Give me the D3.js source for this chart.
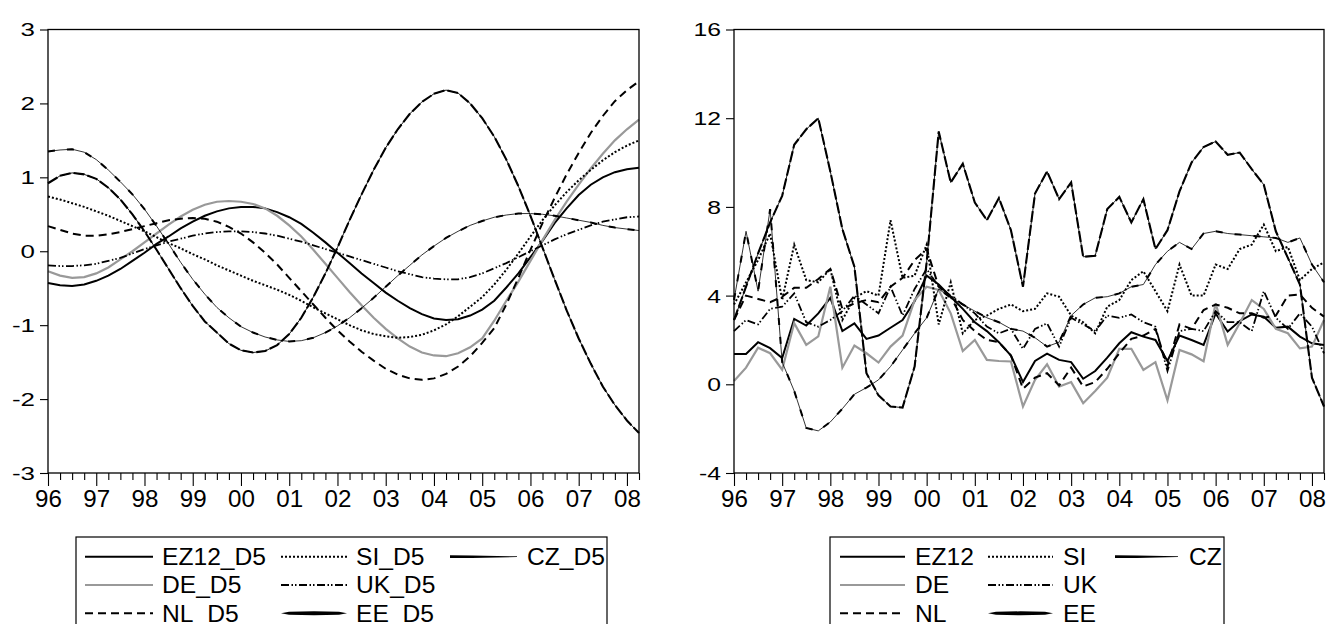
<!DOCTYPE html>
<html>
<head>
<meta charset="utf-8">
<script src="https://cdn.jsdelivr.net/npm/d3@7"></script>
<style>
  body { margin: 0; background: #fff; }
  svg { display: block; }
  text { font-family: "Liberation Sans", Arial, sans-serif; fill: #000; }
</style>
</head>
<body>
<svg id="chart" width="1326" height="624"></svg>
<script>
// quarterly observations 1996Q1 .. 2008Q2
const yearLabels = ["96","97","98","99","00","01","02","03","04","05","06","07","08"]
const nObs = 50

// left panel: filtered cycles (D5)
const ez12D5 = [-0.43,-0.46,-0.47,-0.45,-0.4,-0.33,-0.24,-0.13,-0.02,0.1, 0.2,0.31,0.4,0.48,0.54,0.58,0.6,0.6,0.58,0.53, 0.46,0.37,0.25,0.12,-0.02,-0.16,-0.3,-0.43,-0.56,-0.67, -0.77,-0.85,-0.91,-0.93,-0.92,-0.87,-0.79,-0.67,-0.49,-0.3, -0.08,0.14,0.38,0.58,0.76,0.9,1.0,1.07,1.11,1.13]
const deD5 = [-0.27,-0.33,-0.36,-0.35,-0.3,-0.22,-0.11,0.0,0.12,0.24, 0.36,0.47,0.56,0.63,0.67,0.68,0.67,0.64,0.58,0.48, 0.35,0.2,0.02,-0.17,-0.36,-0.55,-0.73,-0.9,-1.05,-1.18, -1.29,-1.37,-1.41,-1.42,-1.38,-1.3,-1.18,-0.94,-0.67,-0.41, -0.13,0.15,0.42,0.67,0.9,1.12,1.32,1.5,1.65,1.78]
const nlD5 = [0.34,0.29,0.24,0.21,0.21,0.23,0.26,0.3,0.34,0.38, 0.42,0.44,0.45,0.44,0.4,0.33,0.24,0.12,-0.02,-0.18, -0.36,-0.54,-0.72,-0.9,-1.07,-1.22,-1.36,-1.48,-1.59,-1.67, -1.72,-1.74,-1.72,-1.66,-1.56,-1.42,-1.24,-1.04,-0.72,-0.36, 0.02,0.38,0.72,1.04,1.33,1.6,1.83,2.03,2.18,2.3]
const siD5 = [0.74,0.7,0.65,0.6,0.54,0.48,0.41,0.34,0.27,0.19, 0.11,0.04,-0.04,-0.11,-0.19,-0.26,-0.33,-0.4,-0.46,-0.52, -0.59,-0.67,-0.76,-0.84,-0.92,-1.0,-1.07,-1.12,-1.15,-1.17, -1.16,-1.13,-1.07,-0.99,-0.88,-0.75,-0.62,-0.45,-0.25,-0.03, 0.2,0.42,0.62,0.8,0.96,1.1,1.23,1.34,1.43,1.5]
const ukD5 = [-0.19,-0.2,-0.2,-0.19,-0.17,-0.13,-0.09,-0.03,0.03,0.08, 0.13,0.17,0.21,0.24,0.26,0.27,0.27,0.26,0.24,0.21, 0.17,0.13,0.08,0.03,-0.02,-0.07,-0.12,-0.17,-0.22,-0.27, -0.31,-0.35,-0.37,-0.38,-0.38,-0.35,-0.3,-0.23,-0.16,-0.08, 0.0,0.08,0.16,0.23,0.29,0.35,0.4,0.43,0.46,0.47]
const eeD5 = [0.92,1.02,1.06,1.04,0.98,0.86,0.7,0.5,0.27,0.02, -0.24,-0.5,-0.74,-0.95,-1.1,-1.25,-1.34,-1.37,-1.35,-1.27, -1.12,-0.9,-0.62,-0.3,0.05,0.42,0.77,1.1,1.4,1.65, 1.86,2.02,2.13,2.18,2.14,2.0,1.8,1.55,1.24,0.88, 0.48,0.05,-0.38,-0.8,-1.18,-1.52,-1.83,-2.08,-2.29,-2.46]
const czD5 = [1.35,1.37,1.38,1.34,1.24,1.1,0.94,0.77,0.57,0.34, 0.1,-0.15,-0.38,-0.58,-0.76,-0.9,-1.02,-1.1,-1.16,-1.2, -1.22,-1.21,-1.17,-1.1,-1.01,-0.9,-0.77,-0.63,-0.48,-0.33, -0.19,-0.05,0.07,0.18,0.27,0.35,0.41,0.46,0.49,0.51, 0.51,0.5,0.48,0.45,0.42,0.39,0.35,0.32,0.3,0.28]

// right panel: growth rates
const ez12 = [1.37,1.37,1.9,1.63,1.18,2.95,2.65,3.2,3.9,2.4, 2.75,2.05,2.2,2.55,2.9,3.75,4.9,4.5,3.95,3.4, 2.8,2.4,1.9,1.3,0.1,1.05,1.38,1.1,1.0,0.25, 0.6,1.2,1.85,2.35,2.15,2.0,1.05,2.2,2.0,1.78, 3.2,2.38,2.85,3.15,3.05,2.55,2.6,2.15,1.85,1.77]
const de = [0.15,0.75,1.65,1.4,0.66,2.76,1.78,2.16,4.4,0.75, 1.75,1.4,0.98,1.7,2.2,3.8,4.4,4.25,3.2,1.5, 2.0,1.1,1.05,1.03,-1.0,0.2,0.9,-0.1,0.1,-0.85, -0.3,0.3,1.6,1.6,0.65,1.0,-0.72,1.55,1.35,1.04, 3.65,1.78,2.75,3.8,3.4,2.5,2.3,1.62,1.7,2.9]
const nl = [2.9,4.0,3.85,3.7,3.95,4.35,4.35,4.75,5.2,3.4, 3.65,3.8,3.7,4.4,4.8,5.6,6.1,4.4,3.95,2.9, 2.4,2.0,1.9,1.3,-0.2,0.3,0.5,-0.05,0.75,-0.1, 0.1,0.7,1.4,2.05,2.2,2.5,0.8,2.7,2.5,3.35, 3.6,3.45,3.2,3.2,3.0,3.1,4.0,4.05,3.45,3.05]
const si = [3.6,4.6,5.6,6.8,3.8,6.3,4.7,4.6,5.2,2.9, 3.9,4.2,4.0,7.4,4.8,4.9,6.3,2.7,4.6,2.3, 2.9,3.1,3.4,3.6,3.3,3.4,4.1,3.95,3.1,2.8, 2.3,3.5,3.8,4.7,5.1,4.2,3.3,5.4,4.0,4.0, 5.4,5.2,6.1,6.3,7.2,6.0,6.2,4.7,5.2,5.5]
const uk = [2.4,2.9,2.7,3.4,3.5,4.1,2.8,2.6,2.9,3.3, 4.0,3.6,3.2,4.4,3.1,4.3,5.2,4.4,4.0,3.6, 3.2,2.6,2.3,2.5,1.6,2.5,2.75,1.7,3.0,2.7, 2.4,3.1,3.0,3.15,2.8,2.6,0.6,2.4,2.5,2.4, 3.3,2.8,2.8,2.4,4.2,3.0,2.5,3.2,2.6,1.4]
const ee = [2.9,4.4,5.9,7.3,8.5,10.8,11.5,12.0,9.6,7.0, 5.3,0.5,-0.5,-1.0,-1.05,0.8,5.5,11.4,9.1,9.95, 8.2,7.4,8.4,6.95,4.4,8.6,9.6,8.35,9.1,5.75, 5.8,7.9,8.45,7.3,8.35,6.1,6.95,8.7,10.0,10.7, 10.95,10.35,10.45,9.7,9.0,6.9,5.7,4.5,0.3,-1.0]
const cz = [3.8,6.9,4.2,7.9,1.0,-0.3,-1.97,-2.1,-1.7,-1.1, -0.45,-0.15,0.2,0.8,1.55,2.3,3.0,4.3,3.9,3.6, 3.3,3.0,2.8,2.5,2.4,2.1,1.7,1.9,3.1,3.6, 3.9,3.95,4.1,4.4,4.5,5.4,6.0,6.4,6.1,6.8, 6.9,6.8,6.75,6.7,6.65,6.6,6.4,6.6,5.4,4.6]

const leftNames = ["EZ12_D5","DE_D5","NL_D5","SI_D5","UK_D5","EE_D5","CZ_D5"]
const rightNames = ["EZ12","DE","NL","SI","UK","EE","CZ"]
const leftTicks = [-3,-2,-1,0,1,2,3]
const rightTicks = [-4,0,4,8,12,16]

// one style per series position (same in both panels)
const styles = [
    [{stroke:"#000", w:2}],
    [{stroke:"#999", w:2.2}],
    [{stroke:"#000", w:2, dash:"8,5"}],
    [{stroke:"#000", w:2, dash:"2,2"}],
    [{stroke:"#000", w:1.8, dash:"8,2.5,1.5,2,1.5,2.5"}],
    [{stroke:"#000", w:0.9}, {stroke:"#000", w:2.1, dash:"11,3"}],
    [{stroke:"#000", w:0.8}, {stroke:"#000", w:2, dash:"7,12"}]
]

const svg = d3.select("#chart")

function stretch(sel, k, anchor){
    sel.each(function(){
        const t = d3.select(this)
        const w = this.getComputedTextLength()
        const x0 = +t.attr("x") || 0
        const nw = w * k
        t.attr("textLength", nw).attr("lengthAdjust", "spacingAndGlyphs")
         .attr("text-anchor", "start")
         .attr("x", anchor === "end" ? x0 - nw : anchor === "middle" ? x0 - nw / 2 : x0)
    })
}

function drawPanel(cfg){
    const x = d3.scaleLinear().domain([0, nObs - 1]).range([cfg.left, cfg.right])
    const y = d3.scaleLinear().domain(cfg.domain).range([cfg.bottom, cfg.top])
    const g = svg.append("g")

    // series
    const line = d3.line().x((d, i) => x(i)).y(d => y(d))
    cfg.series.forEach((data, si) => {
        styles[si].forEach(st => {
            g.append("path")
                .attr("d", line(data))
                .attr("fill", "none")
                .attr("stroke", st.stroke)
                .attr("stroke-width", st.w)
                .attr("stroke-dasharray", st.dash || null)
                .attr("stroke-linejoin", "miter")
        })
    })

    // frame
    g.append("rect")
        .attr("x", cfg.left).attr("y", cfg.top)
        .attr("width", cfg.right - cfg.left).attr("height", cfg.bottom - cfg.top)
        .attr("fill", "none").attr("stroke", "#000").attr("stroke-width", 1.3)

    // y axis
    const ya = g.append("g")
        .attr("transform", `translate(${cfg.left},0)`)
        .call(d3.axisLeft(y).tickValues(cfg.ticks).tickSize(8).tickPadding(5).tickFormat(d => String(d)))
    ya.select(".domain").remove()
    ya.selectAll("line").attr("stroke-width", 1.1)
    ya.selectAll("text").style("font-size", cfg.yFont + "px").attr("dy", "0.34em")
    stretch(ya.selectAll("text"), cfg.yStretch, "end")

    // x axis: quarterly ticks, labelled each year
    const xa = g.append("g")
        .attr("transform", `translate(0,${cfg.bottom})`)
        .call(d3.axisBottom(x).tickValues(d3.range(nObs)).tickSize(7)
            .tickFormat(i => i % 4 === 0 ? yearLabels[i / 4] : ""))
    xa.select(".domain").remove()
    xa.selectAll("line").attr("stroke-width", 1.1)
    xa.selectAll(".tick").filter(i => i % 4 === 0).select("line").attr("y2", 13)
    xa.selectAll("text").style("font-size", "23px").attr("y", 18)
    stretch(xa.selectAll("text").filter(function(){ return this.textContent !== "" }), 1.05, "middle")

    // legend
    const lg = g.append("g")
    lg.append("rect")
        .attr("x", cfg.legend.x0).attr("y", 537)
        .attr("width", cfg.legend.x1 - cfg.legend.x0).attr("height", 120)
        .attr("fill", "#fff").attr("stroke", "#000").attr("stroke-width", 1.2)
    const rowY = [556.7, 585, 613.3]
    cfg.names.forEach((name, si) => {
        const col = cfg.legend.cols[Math.floor(si / 3)]
        const ly = rowY[si % 3]
        if (si === 5){
            // tapered brush sample
            const a = col.s0, b = col.s1, m = (a + b) / 2
            lg.append("path")
                .attr("d", `M${a},${ly} L${a + 8},${ly - 1.5} L${m},${ly - 2} L${b - 8},${ly - 1.5} L${b},${ly} L${b - 8},${ly + 1.5} L${m},${ly + 2} L${a + 8},${ly + 1.5} Z`)
                .attr("fill", "#000")
        } else if (si === 6){
            const a = col.s0, b = col.s1
            lg.append("path")
                .attr("d", `M${a},${ly - 1.4} L${a + 22},${ly - 1.2} L${b},${ly - 0.4} L${b},${ly + 0.4} L${a + 22},${ly + 1.2} L${a},${ly + 1.4} Z`)
                .attr("fill", "#000")
        } else {
            styles[si].forEach(st => {
                lg.append("line")
                    .attr("x1", col.s0).attr("x2", col.s1).attr("y1", ly).attr("y2", ly)
                    .attr("stroke", st.stroke).attr("stroke-width", st.w)
                    .attr("stroke-dasharray", st.dash || null)
            })
        }
        const t = lg.append("text")
            .attr("x", col.t).attr("y", ly + 8.3)
            .style("font-size", "23px")
            .text(name)
        stretch(t, 1.07, "start")
    })
}

drawPanel({
    left: 48, right: 639, top: 29.5, bottom: 473,
    domain: [-3, 3], ticks: leftTicks, yFont: 18.5, yStretch: 1.4,
    series: [ez12D5, deD5, nlD5, siD5, ukD5, eeD5, czD5],
    names: leftNames,
    legend: {x0: 76, x1: 607, cols: [{s0: 85, s1: 153, t: 162}, {s0: 281, s1: 347, t: 356}, {s0: 450, s1: 517, t: 527}]}
})

drawPanel({
    left: 734, right: 1324, top: 29.5, bottom: 473,
    domain: [-4, 16], ticks: rightTicks, yFont: 19, yStretch: 1.3,
    series: [ez12, de, nl, si, uk, ee, cz],
    names: rightNames,
    legend: {x0: 830, x1: 1224, cols: [{s0: 840, s1: 905, t: 915}, {s0: 988, s1: 1053, t: 1063}, {s0: 1115, s1: 1178, t: 1189}]}
})
</script>
</body>
</html>
